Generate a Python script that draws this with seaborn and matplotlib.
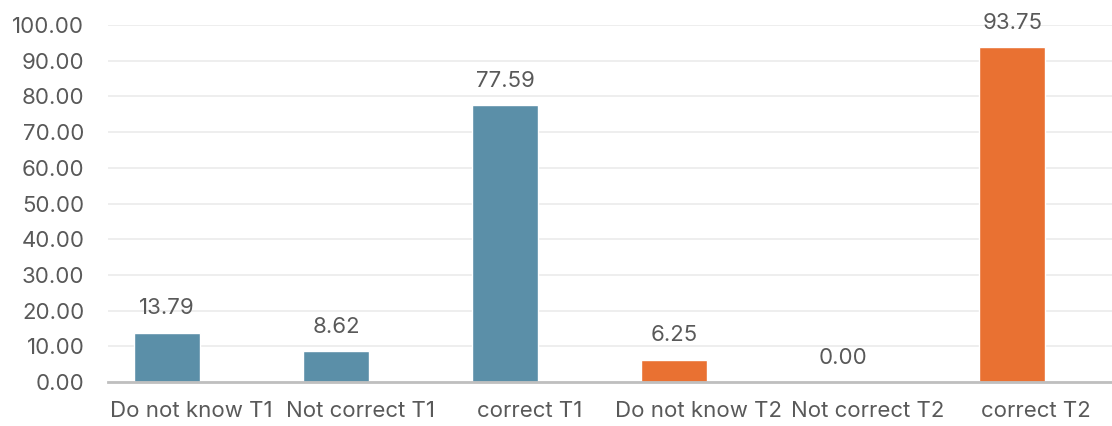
import matplotlib
matplotlib.use("Agg")
import matplotlib.pyplot as plt
import matplotlib.transforms as mtransforms
import seaborn as sns
import pandas as pd

categories = ["Do not know T1", "Not correct T1", "correct T1",
              "Do not know T2", "Not correct T2", "correct T2"]
values = [13.79, 8.62, 77.59, 6.25, 0.00, 93.75]
groups = ["T1", "T1", "T1", "T2", "T2", "T2"]
yticks = [0, 10, 20, 30, 40, 50, 60, 70, 80, 90, 100]

palette = {"T1": "#5B8FA8", "T2": "#E97132"}
text_color = "#595959"

sns.set_theme(style="white")
plt.rcParams["font.family"] = ["Inter", "DejaVu Sans"]

df = pd.DataFrame({"category": categories, "value": values, "group": groups})

fig = plt.figure(figsize=(11.12, 4.26), dpi=100)
ax = fig.add_axes([108 / 1112, 44 / 426, 1 - 108 / 1112, (382 - 25) / 426])

sns.barplot(data=df, x="category", y="value", hue="group", palette=palette,
            dodge=False, width=0.39, legend=False, ax=ax, saturation=1)

for i, v in enumerate(values):
    ax.text(i, v + 4.0, f"{v:.2f}", ha="center", va="bottom",
            fontsize=16, color=text_color, clip_on=False)

ax.set_ylim(0, 100)
ax.set_xlim(-0.35, 5.59)
ax.set_yticks(yticks)
ax.set_yticklabels([f"{t:.2f}" for t in yticks])
ax.yaxis.grid(True, color="#EDEDED", linewidth=1.3)
ax.set_axisbelow(True)
ax.set_xlabel("")
ax.set_ylabel("")
for s in ["top", "right", "left"]:
    ax.spines[s].set_visible(False)
ax.spines["bottom"].set_color("#BFBFBF")
ax.spines["bottom"].set_linewidth(2)
ax.tick_params(axis="both", length=0, labelsize=16, labelcolor=text_color)
ax.tick_params(axis="y", pad=17)
ax.tick_params(axis="x", pad=14)

# category labels sit a little to the right of their bars
label_shift_px = 24
shift = mtransforms.ScaledTranslation(label_shift_px / 100, 0, fig.dpi_scale_trans)
for lab in ax.get_xticklabels():
    lab.set_transform(lab.get_transform() + shift)

fig.savefig("out.png", dpi=100)
